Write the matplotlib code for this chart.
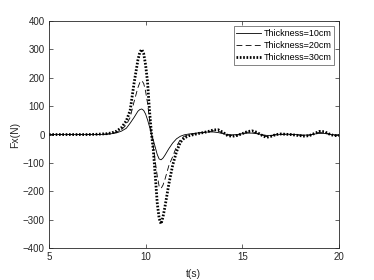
import matplotlib
matplotlib.use("Agg")
import matplotlib.pyplot as plt

plt.rcParams['font.family'] = ['Liberation Sans', 'DejaVu Sans']

# time samples (s)
t = [5.0, 6.0, 7.0, 7.5, 8.0, 8.25, 8.5, 8.75, 9.0, 9.2, 9.4, 9.6, 9.7, 9.8, 9.9,
     10.0, 10.1, 10.2, 10.3, 10.4, 10.5, 10.6, 10.7, 10.8, 10.9, 11.0, 11.2, 11.4,
     11.6, 11.8, 12.0, 12.25, 12.5, 12.75, 13.0, 13.25, 13.5, 13.75, 14.0, 14.25,
     14.5, 14.75, 15.0, 15.25, 15.5, 15.75, 16.0, 16.25, 16.5, 16.75, 17.0, 17.25,
     17.5, 17.75, 18.0, 18.25, 18.5, 18.75, 19.0, 19.25, 19.5, 19.75, 20.0]

fx_10 = [0, 0, 0, 0, 1, 3, 6, 12, 22, 40, 60, 82, 88, 90, 85,
         72, 52, 28, 3, -20, -45, -70, -86, -89, -83, -73, -50, -30,
         -15, -6, -1, 2, 4, 6, 8, 9, 9, 7, 3, 0,
         -1, 0, 3, 5, 5, 3, 0, -3, -3, -1, 0, 1,
         1, 0, -1, -2, -1, 2, 4, 4, 1, -1, -1]

fx_20 = [0, 0, 0, 0, 2, 4, 8, 17, 34, 60, 115, 165, 183, 190, 180,
         152, 110, 55, 3, -45, -95, -145, -182, -190, -178, -158, -110, -78,
         -42, -17, -6, -1, 2, 5, 7, 10, 13, 12, 5, -2,
         -4, -2, 3, 8, 9, 5, -1, -7, -4, 0, 1, 1,
         0, -1, -3, -4, -2, 3, 8, 7, 2, -3, -2]

fx_30 = [0, 0, 0, 1, 3, 6, 12, 24, 48, 85, 180, 262, 290, 300, 285,
         245, 185, 85, 5, -55, -145, -240, -295, -315, -290, -255, -175, -108,
         -60, -27, -12, -4, 0, 4, 7, 11, 16, 17, 8, -4,
         -6, -3, 3, 10, 13, 8, -2, -10, -6, 0, 2, 1,
         0, -2, -4, -6, -3, 4, 11, 10, 2, -4, -3]

fig = plt.figure(figsize=(3.74, 2.8), dpi=100)
ax = fig.add_axes([0.131, 0.114, 0.775, 0.811])

ax.plot(t, fx_10, color='black', lw=0.6, ls='-', label='Thickness=10cm')
ax.plot(t, fx_20, color='black', lw=0.6, ls=(0, (7, 4)), label='Thickness=20cm')
ax.plot(t, fx_30, color='black', lw=2.0, ls=(0, (0.6, 0.6)), label='Thickness=30cm')

ax.set_xlim(5, 20)
ax.set_ylim(-400, 400)
ax.set_xticks([5, 10, 15, 20])
ax.set_yticks(range(-400, 401, 100))
ax.set_xlabel('t(s)', fontsize=7.5, color='#262626', labelpad=5)
ax.set_ylabel('Fx(N)', fontsize=7.5, color='#262626', labelpad=2)
ax.tick_params(direction='in', length=3, width=0.5, labelsize=7,
               colors='#262626', top=True, right=True, pad=3)
for s in ax.spines.values():
    s.set_linewidth(0.6)
    s.set_color('#262626')

leg = ax.legend(loc='upper right', fontsize=6.5, frameon=True, fancybox=False,
                handlelength=2.7, handletextpad=0.3, borderpad=0.3,
                labelspacing=0.35, borderaxespad=0.55)
leg.get_frame().set_edgecolor('#262626')
leg.get_frame().set_linewidth(0.5)

fig.savefig('out.png', dpi=100)
